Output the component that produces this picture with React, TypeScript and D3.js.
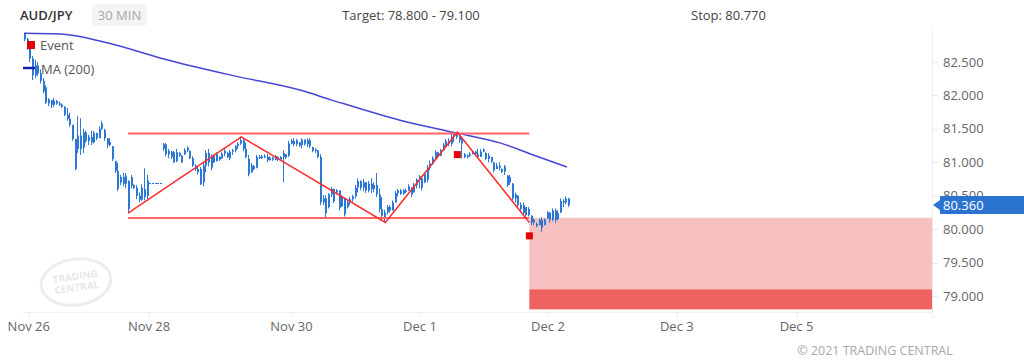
import * as d3 from 'd3';

const FONT = '"Open Sans", sans-serif';

// 30 min bars: [open, high, low, close]
const priceBars: [number, number, number, number][] = [
  [82.92, 82.93, 82.81, 82.84], [82.84, 82.86, 82.68, 82.72], [82.70, 82.72, 82.50, 82.55], [82.55, 82.59, 82.23, 82.30],
  [82.30, 82.53, 82.26, 82.45], [82.45, 82.50, 82.29, 82.33], [82.33, 82.39, 82.18, 82.22], [82.22, 82.26, 82.03, 82.06],
  [82.12, 82.15, 81.87, 81.89], [81.88, 81.96, 81.84, 81.94], [81.93, 81.93, 81.81, 81.86], [81.86, 81.96, 81.83, 81.92],
  [81.92, 81.93, 81.86, 81.88], [81.88, 81.91, 81.84, 81.86], [81.86, 81.88, 81.81, 81.83], [81.83, 81.84, 81.69, 81.71],
  [81.71, 81.81, 81.62, 81.65], [81.65, 81.74, 81.53, 81.56], [81.56, 81.56, 81.32, 81.35], [81.35, 81.35, 80.88, 80.90],
  [81.20, 81.69, 81.14, 81.40], [81.40, 81.66, 81.11, 81.20], [81.22, 81.50, 81.14, 81.45], [81.45, 81.47, 81.29, 81.32],
  [81.32, 81.41, 81.26, 81.38], [81.38, 81.47, 81.26, 81.30], [81.30, 81.47, 81.28, 81.44], [81.44, 81.44, 81.33, 81.36],
  [81.36, 81.54, 81.36, 81.50], [81.50, 81.62, 81.48, 81.58], [81.48, 81.50, 81.32, 81.36], [81.36, 81.36, 81.21, 81.26],
  [81.26, 81.36, 81.24, 81.30], [81.24, 81.24, 81.02, 81.05], [81.02, 81.02, 80.84, 80.87], [80.87, 80.99, 80.57, 80.60],
  [80.70, 80.81, 80.66, 80.78], [80.78, 80.84, 80.64, 80.68], [80.68, 80.84, 80.61, 80.80], [80.72, 80.73, 80.24, 80.30],
  [80.65, 80.81, 80.61, 80.78], [80.66, 80.67, 80.60, 80.62], [80.62, 80.66, 80.45, 80.50], [80.50, 80.55, 80.40, 80.44],
  [80.44, 80.67, 80.42, 80.62], [80.60, 80.91, 80.43, 80.48], [80.50, 80.81, 80.45, 80.73],
  [80.69, 80.69, 80.68, 80.68], [80.69, 80.69, 80.68, 80.68], [80.69, 80.69, 80.68, 80.68], [80.69, 80.69, 80.68, 80.68],
  [80.69, 80.69, 80.68, 80.68],
  [81.20, 81.29, 81.17, 81.27], [81.27, 81.29, 81.09, 81.12], [81.12, 81.20, 81.06, 81.17], [81.16, 81.17, 81.05, 81.08],
  [81.15, 81.17, 80.99, 81.00], [81.02, 81.20, 81.00, 81.15], [81.14, 81.15, 81.08, 81.10], [81.10, 81.11, 80.99, 81.00],
  [81.12, 81.21, 81.11, 81.18], [81.18, 81.24, 81.15, 81.22], [81.17, 81.18, 81.05, 81.06], [81.06, 81.09, 80.93, 80.95],
  [80.95, 80.97, 80.87, 80.90], [80.90, 80.93, 80.82, 80.85], [80.90, 80.93, 80.66, 80.67], [80.70, 81.00, 80.64, 80.95],
  [80.95, 81.18, 80.85, 81.14], [81.14, 81.20, 80.94, 81.00], [80.92, 81.12, 80.88, 81.10], [81.10, 81.12, 80.99, 81.00],
  [81.02, 81.15, 81.01, 81.12], [81.08, 81.09, 81.02, 81.04], [81.06, 81.15, 81.05, 81.13], [81.13, 81.20, 81.09, 81.17],
  [81.14, 81.15, 81.06, 81.08], [81.06, 81.18, 81.03, 81.16], [81.16, 81.20, 81.11, 81.18], [81.18, 81.26, 81.15, 81.24],
  [81.24, 81.30, 81.20, 81.28], [81.28, 81.38, 81.26, 81.33], [81.33, 81.36, 81.17, 81.20], [81.20, 81.29, 81.06, 81.08],
  [81.05, 81.11, 80.79, 80.82], [80.85, 80.99, 80.84, 80.95], [80.94, 80.96, 80.88, 80.90], [80.92, 81.11, 80.91, 81.08],
  [81.08, 81.11, 81.05, 81.06], [81.06, 81.11, 81.05, 81.09], [81.09, 81.12, 81.06, 81.08], [81.08, 81.12, 81.00, 81.03],
  [81.03, 81.09, 81.03, 81.07], [81.07, 81.08, 81.02, 81.04], [81.04, 81.11, 81.03, 81.09], [81.08, 81.09, 81.02, 81.04],
  [81.04, 81.09, 81.03, 81.08], [81.08, 81.18, 80.70, 81.14], [81.12, 81.12, 81.05, 81.07], [81.10, 81.32, 81.08, 81.28],
  [81.28, 81.35, 81.27, 81.32], [81.32, 81.36, 81.24, 81.27], [81.27, 81.35, 81.24, 81.33], [81.30, 81.30, 81.23, 81.25],
  [81.26, 81.36, 81.21, 81.34], [81.34, 81.34, 81.25, 81.27], [81.27, 81.36, 81.23, 81.33], [81.33, 81.36, 81.21, 81.24],
  [81.23, 81.23, 81.15, 81.17], [81.17, 81.21, 81.14, 81.19], [81.18, 81.18, 81.06, 81.08], [81.08, 81.12, 80.36, 80.40],
  [80.40, 80.51, 80.36, 80.46], [80.46, 80.51, 80.18, 80.24], [80.33, 80.54, 80.31, 80.52], [80.52, 80.63, 80.48, 80.60],
  [80.60, 80.61, 80.39, 80.42], [80.55, 80.60, 80.52, 80.58], [80.58, 80.58, 80.28, 80.32], [80.34, 80.51, 80.33, 80.48],
  [80.46, 80.46, 80.19, 80.22], [80.33, 80.43, 80.31, 80.40], [80.40, 80.48, 80.36, 80.45], [80.45, 80.51, 80.41, 80.49],
  [80.49, 80.66, 80.46, 80.62], [80.62, 80.76, 80.55, 80.72], [80.72, 80.73, 80.58, 80.62], [80.62, 80.75, 80.57, 80.70],
  [80.70, 80.70, 80.54, 80.58], [80.58, 80.72, 80.55, 80.68], [80.68, 80.76, 80.54, 80.60], [80.60, 80.70, 80.55, 80.66],
  [80.66, 80.84, 80.48, 80.52], [80.52, 80.61, 80.25, 80.30], [80.30, 80.48, 80.14, 80.20], [80.18, 80.29, 80.11, 80.25],
  [80.25, 80.36, 80.22, 80.33], [80.33, 80.36, 80.25, 80.28], [80.28, 80.43, 80.28, 80.40], [80.40, 80.57, 80.40, 80.54],
  [80.54, 80.60, 80.49, 80.58], [80.58, 80.60, 80.51, 80.53], [80.53, 80.60, 80.51, 80.58], [80.58, 80.61, 80.54, 80.56],
  [80.58, 80.67, 80.57, 80.64], [80.62, 80.63, 80.48, 80.52], [80.55, 80.69, 80.55, 80.66], [80.66, 80.76, 80.61, 80.74],
  [80.74, 80.81, 80.61, 80.79], [80.76, 80.76, 80.58, 80.62], [80.70, 80.85, 80.69, 80.82], [80.74, 80.96, 80.70, 80.92],
  [80.92, 81.03, 80.88, 80.98], [80.98, 81.09, 80.96, 81.06], [81.06, 81.18, 81.03, 81.15], [81.15, 81.15, 81.06, 81.10],
  [81.10, 81.20, 81.09, 81.18], [81.18, 81.29, 81.17, 81.26], [81.26, 81.35, 81.24, 81.32], [81.32, 81.36, 81.24, 81.28],
  [81.28, 81.42, 81.24, 81.38], [81.38, 81.44, 81.30, 81.42], [81.42, 81.45, 81.35, 81.38], [81.38, 81.41, 81.29, 81.33],
  [81.34, 81.38, 81.06, 81.28], [81.12, 81.14, 81.06, 81.08], [81.08, 81.12, 81.06, 81.10], [81.10, 81.15, 81.08, 81.12],
  [81.12, 81.18, 81.12, 81.16], [81.16, 81.17, 81.11, 81.12], [81.12, 81.20, 81.06, 81.08], [81.08, 81.20, 81.08, 81.16],
  [81.16, 81.21, 81.15, 81.19], [81.14, 81.15, 81.03, 81.05], [81.05, 81.14, 81.00, 81.10], [81.08, 81.08, 80.99, 81.01],
  [81.00, 81.00, 80.85, 80.88], [80.90, 80.99, 80.90, 80.95], [80.95, 81.00, 80.88, 80.92], [80.90, 80.91, 80.84, 80.86],
  [80.86, 80.96, 80.81, 80.94], [80.80, 80.81, 80.63, 80.66], [80.70, 80.81, 80.66, 80.78], [80.68, 80.69, 80.43, 80.46],
  [80.46, 80.55, 80.40, 80.52], [80.50, 80.51, 80.33, 80.36], [80.36, 80.40, 80.25, 80.30], [80.24, 80.40, 80.21, 80.36],
  [80.33, 80.33, 80.18, 80.21], [80.21, 80.33, 80.19, 80.30], [80.20, 80.21, 80.06, 80.10], [80.10, 80.16, 80.06, 80.14],
  [80.08, 80.10, 80.03, 80.05], [80.06, 80.16, 80.06, 80.14], [80.14, 80.18, 79.96, 80.02], [80.06, 80.16, 80.06, 80.14],
  [80.16, 80.27, 80.16, 80.25], [80.25, 80.25, 80.10, 80.14], [80.14, 80.31, 80.12, 80.28], [80.28, 80.31, 80.09, 80.14],
  [80.15, 80.28, 80.13, 80.24], [80.25, 80.46, 80.24, 80.42], [80.42, 80.45, 80.33, 80.40], [80.40, 80.49, 80.37, 80.46],
  [80.46, 80.46, 80.33, 80.36],
];

// MA (200) read at a few bar positions
const maIndex = [0, 13.5, 32, 51, 78, 103.5, 115.5, 141, 162, 178.5, 191, 203.6];
const maValue = [82.93, 82.92, 82.78, 82.56, 82.30, 82.08, 81.93, 81.63, 81.44, 81.29, 81.11, 80.93];

// pattern
const zigzagIndex = [39, 81.5, 135.5, 162.5, 189.5];
const zigzagPrice = [80.24, 81.38, 80.10, 81.45, 80.10];
const channelStart = 39;
const channelEnd = 189.5;
const channelTop = 81.43;
const channelBottom = 80.165;

const eventIndex = [162.5, 189.5];
const eventPrice = [81.115, 79.9];

// target zone
const zoneStart = 189.5;
const entryLevel = 80.17;
const targetHigh = 79.1;
const targetLow = 78.8;
const lastPrice = 80.36;

const yTicks = [79, 79.5, 80, 80.5, 81, 81.5, 82, 82.5];
const dateTickIndex = [1.8, 46.9, 100.3, 148.5, 196.5, 244.8, 289.7];
const dateTickLabel = ['Nov 26', 'Nov 28', 'Nov 30', 'Dec 1', 'Dec 2', 'Dec 3', 'Dec 5'];

export default function App() {
  const x = d3.scaleLinear().domain([0, 340.5]).range([24, 932]);
  const y = d3.scaleLinear().domain([79, 82.5]).range([296, 62]);
  const plotL = 22, plotR = 932, plotT = 30, plotB = 312;

  const maLine = d3.line<number>()
    .x((_, i) => x(maIndex[i]))
    .y(d => y(d))
    .curve(d3.curveMonotoneX)(maValue) || '';
  const zigzag = d3.line<number>()
    .x((_, i) => x(zigzagIndex[i]))
    .y(d => y(d))(zigzagPrice) || '';

  const barColor = '#2d77d5';

  return (
    <div style={{ position: 'absolute', left: 0, top: 0 }}>
      <svg width={1024} height={361} style={{ display: 'block', fontFamily: FONT }}>
        <rect width={1024} height={361} fill="#fff" />
        <defs>
          <clipPath id="plot">
            <rect x={plotL} y={plotT} width={plotR - plotL} height={plotB - plotT} />
          </clipPath>
        </defs>

        {/* header */}
        <text x={20} y={20} fontSize={13} fontWeight={600} fill="#333">AUD/JPY</text>
        <rect x={92} y={4} width={55} height={22} rx={4} fill="#f4f4f4" />
        <text x={119.5} y={20} fontSize={13} fill="#a6a6a6" textAnchor="middle">30 MIN</text>
        <text x={411} y={20} fontSize={13} fill="#444" textAnchor="middle">Target: 78.800 - 79.100</text>
        <text x={728.5} y={20} fontSize={13} fill="#444" textAnchor="middle">Stop: 80.770</text>

        {/* watermark */}
        <g transform="translate(76,282) rotate(-8)" opacity={0.9}>
          <ellipse rx={35} ry={23} fill="none" stroke="#ececec" strokeWidth={3} />
          <text y={-2} fontSize={10} fontWeight={700} fill="#e6e6e6" textAnchor="middle">TRADING</text>
          <text y={9} fontSize={10} fontWeight={700} fill="#e6e6e6" textAnchor="middle">CENTRAL</text>
        </g>

        {/* axes */}
        <line x1={plotR + 0.5} x2={plotR + 0.5} y1={plotT} y2={318} stroke="#eeeeee" />
        <line x1={plotL} x2={plotR} y1={plotB + 0.5} y2={plotB + 0.5} stroke="#f1f1f1" />
        {yTicks.map(t => (
          <g key={t}>
            <line x1={plotR} x2={plotR + 6} y1={Math.round(y(t)) + 0.5} y2={Math.round(y(t)) + 0.5} stroke="#e8e8e8" />
            <text x={943} y={y(t)} dy="0.35em" fontSize={13} fill="#666">{t.toFixed(3)}</text>
          </g>
        ))}
        {dateTickIndex.map((t, i) => (
          <g key={i}>
            <line x1={Math.round(x(t)) + 0.5} x2={Math.round(x(t)) + 0.5} y1={plotB} y2={plotB + 5} stroke="#ececec" />
            <text x={x(t)} y={331} fontSize={13} fill="#666" textAnchor="middle">{dateTickLabel[i]}</text>
          </g>
        ))}

        <g clipPath="url(#plot)">
          {/* target zone */}
          <rect x={x(zoneStart)} y={y(entryLevel)} width={plotR - x(zoneStart)} height={y(targetHigh) - y(entryLevel)} fill="#f7c1c1" />
          <rect x={x(zoneStart)} y={y(targetHigh)} width={plotR - x(zoneStart)} height={y(targetLow) - y(targetHigh)} fill="#ef6262" />

          {/* bars */}
          {priceBars.map(([o, h, l, c], i) => {
            const cx = Math.round(x(i));
            const top = Math.min(y(o), y(c));
            const bh = Math.max(1, Math.abs(y(o) - y(c)));
            return (
              <g key={i} fill={barColor}>
                <rect x={cx} y={y(h)} width={1} height={Math.max(1, y(l) - y(h))} />
                <rect x={cx} y={top} width={2} height={bh} />
              </g>
            );
          })}

          {/* MA */}
          <path d={maLine} fill="none" stroke="#4545d6" strokeWidth={1.5} />

          {/* channel */}
          <line x1={x(channelStart)} x2={x(channelEnd)} y1={y(channelTop)} y2={y(channelTop)} stroke="#ff6666" strokeWidth={2} />
          <line x1={x(channelStart)} x2={x(channelEnd)} y1={y(channelBottom)} y2={y(channelBottom)} stroke="#ff6666" strokeWidth={2} />
          <path d={zigzag} fill="none" stroke="#ff2b2b" strokeWidth={1.5} />

          {/* events */}
          {eventIndex.map((e, i) => (
            <rect key={i} x={x(e) - 3.5} y={y(eventPrice[i]) - 3.5} width={7} height={7} fill="#e40000" />
          ))}
        </g>

        {/* legend */}
        <rect x={27} y={41} width={8} height={8} fill="#e40000" />
        <text x={40} y={45} dy="0.35em" fontSize={13} fill="#555">Event</text>
        <line x1={23} x2={35} y1={68} y2={68} stroke="#1c1cae" strokeWidth={2.5} />
        <text x={41} y={69} dy="0.35em" fontSize={13} fill="#555">MA (200)</text>

        {/* last price */}
        <path d={`M933,${y(lastPrice)} L940,${y(lastPrice) - 5} L940,${y(lastPrice) - 9} L1024,${y(lastPrice) - 9} L1024,${y(lastPrice) + 9} L940,${y(lastPrice) + 9} L940,${y(lastPrice) + 5} Z`} fill="#2a74d0" />
        <text x={943} y={y(lastPrice)} dy="0.35em" fontSize={13} fill="#fff">{lastPrice.toFixed(3)}</text>

        <text x={875} y={355} fontSize={12.5} fill="#a8a8a8" textAnchor="middle">© 2021 TRADING CENTRAL</text>
      </svg>
    </div>
  );
}
